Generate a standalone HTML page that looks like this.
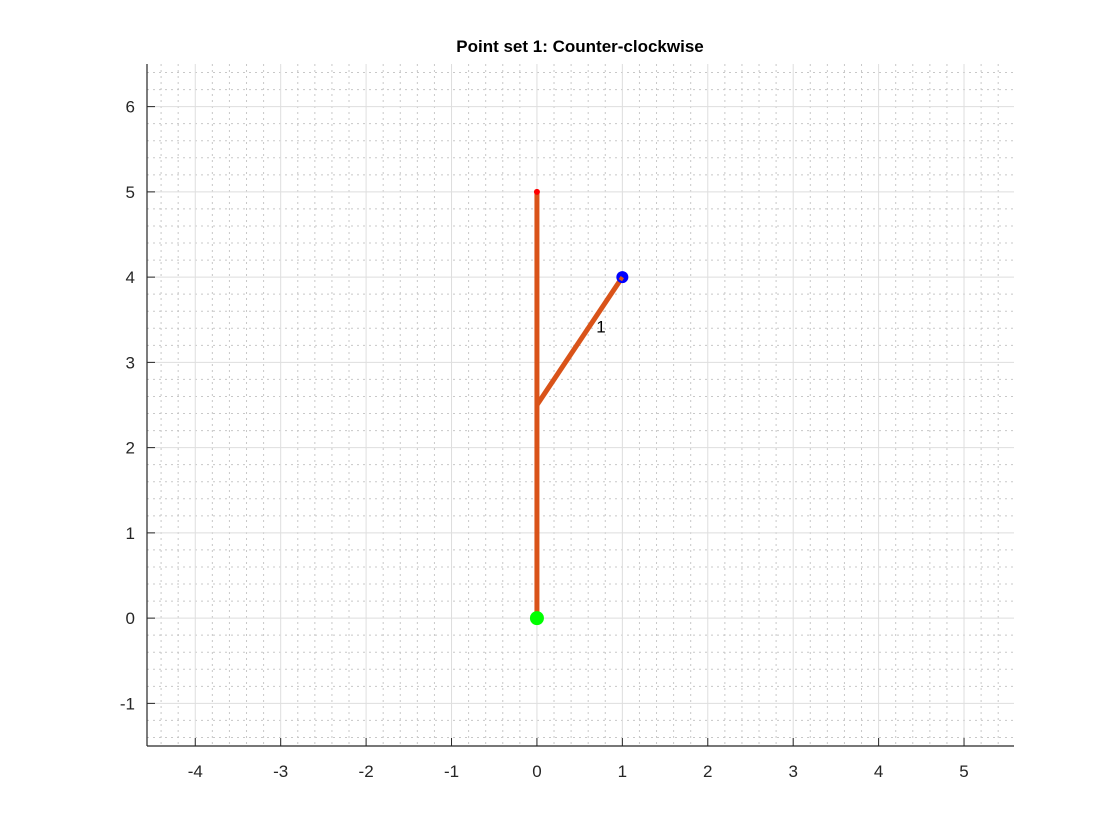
<!DOCTYPE html>
<html><head><meta charset="utf-8"><style>
body{margin:0;background:#fff;}
svg{display:block;font-family:"Liberation Sans",Arial,sans-serif;}
</style></head><body>
<svg id="chart" width="1120" height="840">
<rect width="1120" height="840" fill="#fff"/>
<g id="grid"></g>
<g id="axes"></g>
<g id="marks"></g>
<text x="580" y="52" text-anchor="middle" font-size="17" font-weight="bold" fill="#000">Point set 1: Counter-clockwise</text>
</svg>
<script>
const xTicks=[-4,-3,-2,-1,0,1,2,3,4,5];
const yTicks=[-1,0,1,2,3,4,5,6];
const segX1=[0,0];
const segY1=[0,2.5];
const segX2=[0,1];
const segY2=[5,4];
const startPt=[0,0];
const endPt=[0,5];
const branchPt=[1,4];
const labelPt=[0.75,3.42];
const labelText=["1"];
const xMin=-4.565,xMax=5.585,yMin=-1.5,yMax=6.5;
const L=147,R=1014,T=64,B=746;
const sx=v=>L+(v-xMin)/(xMax-xMin)*(R-L);
const sy=v=>B-(v-yMin)/(yMax-yMin)*(B-T);
const NS="http://www.w3.org/2000/svg";
function mk(t,a,p){const e=document.createElementNS(NS,t);for(const k in a)e.setAttribute(k,a[k]);p.appendChild(e);return e;}
const grid=document.getElementById('grid'),axes=document.getElementById('axes'),marks=document.getElementById('marks');
for(let v=Math.ceil(xMin*5)/5;v<=xMax;v+=0.2){const r=Math.round(v*5)/5;if(Math.abs(r-Math.round(r))<1e-6)continue;
const e=mk('line',{x1:sx(r),x2:sx(r),y1:T,y2:B,stroke:'#c8c8c8','stroke-width':1,'stroke-dasharray':'2,4'},grid);
}
for(let v=Math.ceil(yMin*5)/5;v<=yMax;v+=0.2){const r=Math.round(v*5)/5;if(Math.abs(r-Math.round(r))<1e-6)continue;
const e=mk('line',{x1:L,x2:R,y1:sy(r),y2:sy(r),stroke:'#c8c8c8','stroke-width':1,'stroke-dasharray':'2,4'},grid);
}
xTicks.forEach(v=>{const e=mk('line',{x1:sx(v),x2:sx(v),y1:T,y2:B,stroke:'#dedede','stroke-width':1},grid);

const t=mk('line',{x1:sx(v),x2:sx(v),y1:B,y2:B-8,stroke:'#262626','stroke-width':1},axes);

const l=mk('text',{x:sx(v),y:B+31,'text-anchor':'middle','font-size':17,fill:'#262626'},axes);l.textContent=v;
});
yTicks.forEach(v=>{const e=mk('line',{x1:L,x2:R,y1:sy(v),y2:sy(v),stroke:'#dedede','stroke-width':1},grid);

const t=mk('line',{x1:L,x2:L+8,y1:sy(v),y2:sy(v),stroke:'#262626','stroke-width':1},axes);

const l=mk('text',{x:L-12,y:sy(v)+6,'text-anchor':'end','font-size':17,fill:'#262626'},axes);l.textContent=v;
});
const xa=mk('line',{x1:L,x2:R,y1:B,y2:B,stroke:'#262626','stroke-width':1.2},axes);

const ya=mk('line',{x1:L,x2:L,y1:T,y2:B,stroke:'#262626','stroke-width':1.2},axes);

const s1=mk('line',{x1:sx(segX1[0]),y1:sy(segY1[0]),x2:sx(segX1[0]),y2:sy(endPt[1]),stroke:'#d95319','stroke-width':5},marks);

const s2=mk('line',{x1:sx(segX1[1]),y1:sy(segY1[1]),x2:sx(branchPt[0]),y2:sy(branchPt[1]),stroke:'#d95319','stroke-width':5},marks);

const ep=mk('circle',{cx:sx(endPt[0]),cy:sy(endPt[1]),r:3,fill:'#ff0000'},marks);

const bp=mk('circle',{cx:sx(branchPt[0]),cy:sy(branchPt[1]),r:6,fill:'#0000ff'},marks);

const s2b=mk('line',{x1:sx(branchPt[0])-2,y1:sy(branchPt[1])+3,x2:sx(branchPt[0]),y2:sy(branchPt[1]),stroke:'#d95319','stroke-width':4},marks);

const sp=mk('circle',{cx:sx(startPt[0]),cy:sy(startPt[1]),r:7,fill:'#00ff00'},marks);

const lb=mk('text',{x:sx(labelPt[0]),y:sy(labelPt[1])+6,'text-anchor':'middle','font-size':17,fill:'#000'},marks);
lb.textContent=labelText[0];
</script>
</body></html>
